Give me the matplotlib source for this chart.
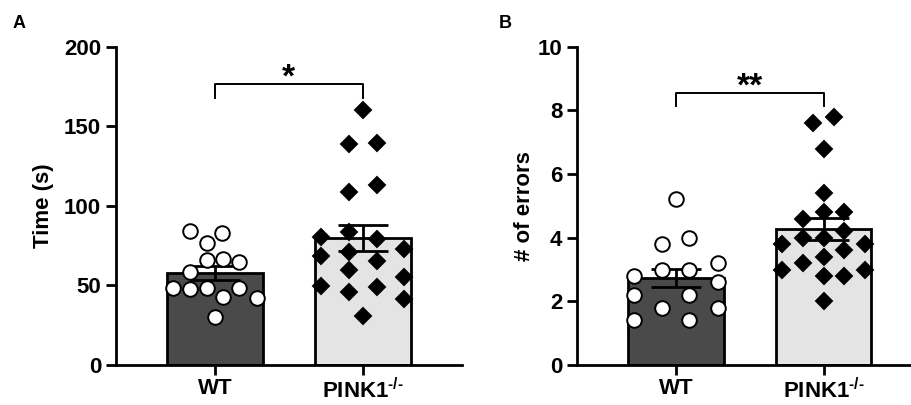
import numpy as np
import matplotlib
matplotlib.use("Agg")
import matplotlib.pyplot as plt

plt.rcParams['font.family'] = ['Liberation Sans', 'DejaVu Sans']
plt.rcParams['font.weight'] = 'bold'
plt.rcParams['mathtext.fontset'] = 'custom'
plt.rcParams['mathtext.rm'] = 'Liberation Sans:bold'
plt.rcParams['mathtext.bf'] = 'Liberation Sans:bold'

# ---------------- data ----------------
groups = ['WT', 'PINK1$^{\\text{-/-}}$']

time_wt = [84.5, 82.8, 76.9, 66.0, 66.7, 65.0, 58.7, 48.6, 47.8, 48.6, 48.6, 42.6, 42.3, 30.4]
time_wt_jit = [-0.17, 0.05, -0.055, -0.055, 0.055, 0.165, -0.17, -0.285, -0.17, -0.055, 0.165, 0.055, 0.285, 0.0]
time_pk = [160.4, 138.8, 139.4, 108.4, 113.2, 80.7, 83.8, 79.0, 73.0, 68.8, 71.3, 65.4, 59.7,
           55.5, 49.7, 45.7, 49.2, 41.3, 30.8]
time_pk_jit = [0.0, -0.093, 0.095, -0.093, 0.095, -0.284, -0.093, 0.095, 0.28, -0.284, -0.093,
               0.095, -0.093, 0.28, -0.284, -0.093, 0.095, 0.28, 0.0]

err_wt = [5.2, 3.8, 4.0, 3.2, 2.8, 3.0, 3.0, 2.6, 2.2, 2.2, 1.8, 1.8, 1.4, 1.4]
err_wt_jit = [0.0, -0.095, 0.092, 0.282, -0.282, -0.095, 0.092, 0.282, -0.282, 0.092, -0.095,
              0.282, -0.282, 0.092]
err_pk = [7.6, 7.8, 6.8, 5.4, 4.6, 4.8, 4.8, 4.2, 4.0, 4.0, 3.8, 3.8, 3.6, 3.4, 3.2, 3.0, 3.0,
          2.8, 2.8, 2.0]
err_pk_jit = [-0.068, 0.072, 0.0, 0.0, -0.14, 0.0, 0.142, 0.142, -0.14, 0.0, -0.282, 0.284,
              0.142, 0.0, -0.14, -0.282, 0.284, 0.0, 0.142, 0.0]

sig_A = '*'
sig_B = '**'

bar_colors = ['#4a4a4a', '#e4e4e4']

# ---------------- figure ----------------
W, H = 911, 405
fig = plt.figure(figsize=(W / 100, H / 100), dpi=100)

LW = 2.0


def panel(ax, wt, wtj, pk, pkj, ylim, yticks, ylabel, sig, br_lo, br_hi, star_y, label_x):
    datasets = [(wt, wtj, 'o', 'white', 10.5), (pk, pkj, 'D', 'black', 8.6)]
    for i, (vals, jit, mk, fc, ms) in enumerate(datasets):
        v = np.array(vals)
        m = v.mean()
        sem = v.std(ddof=1) / np.sqrt(len(v))
        ax.bar(i, m, width=0.647, color=bar_colors[i], edgecolor='black', linewidth=LW, zorder=1)
        ax.errorbar(i, m, yerr=sem, color='black', elinewidth=LW, capsize=18, capthick=LW,
                    zorder=2, fmt='none')
        ax.plot(i + np.array(jit), v, linestyle='none', marker=mk, markersize=ms,
                markerfacecolor=fc, markeredgecolor='black', markeredgewidth=1.4, zorder=3,
                clip_on=False)
    ax.set_xlim(-0.67, 1.67)
    ax.set_ylim(*ylim)
    ax.set_yticks(yticks)
    ax.set_xticks([0, 1])
    ax.set_xticklabels(groups)
    for s in ['top', 'right']:
        ax.spines[s].set_visible(False)
    for s in ['left', 'bottom']:
        ax.spines[s].set_linewidth(LW)
    ax.tick_params(axis='both', width=LW, length=7.2, labelsize=16, pad=3.5)
    ax.tick_params(axis='x', pad=2.5)
    ax.set_ylabel(ylabel, fontsize=16, fontweight='bold')
    ax.yaxis.set_label_coords(label_x, 0.5)
    # significance bracket
    ax.plot([0, 0, 1, 1], [br_lo, br_hi, br_hi, br_lo], color='black', linewidth=1.4,
            clip_on=False, zorder=4)
    ax.text(0.5, star_y, sig, ha='center', va='baseline', fontsize=24, fontweight='bold')


axA = fig.add_axes([116 / W, 1 - 365 / H, 345.7 / W, (365 - 46.7) / H])
panel(axA, time_wt, time_wt_jit, time_pk, time_pk_jit, (0, 200), [0, 50, 100, 150, 200],
      'Time (s)', sig_A, 168, 176.5, 175.0, -0.178)

axB = fig.add_axes([577 / W, 1 - 365 / H, 345.4 / W, (365 - 46.7) / H])
panel(axB, err_wt, err_wt_jit, err_pk, err_pk_jit, (0, 10), [0, 2, 4, 6, 8, 10],
      '# of errors', sig_B, 8.14, 8.54, 8.45, -0.122)

fig.text(19 / W, 1 - 24 / H, 'A', ha='center', va='center', fontsize=13, fontweight='bold')
fig.text(505 / W, 1 - 24 / H, 'B', ha='center', va='center', fontsize=13, fontweight='bold')

fig.savefig('out.png', dpi=100)
